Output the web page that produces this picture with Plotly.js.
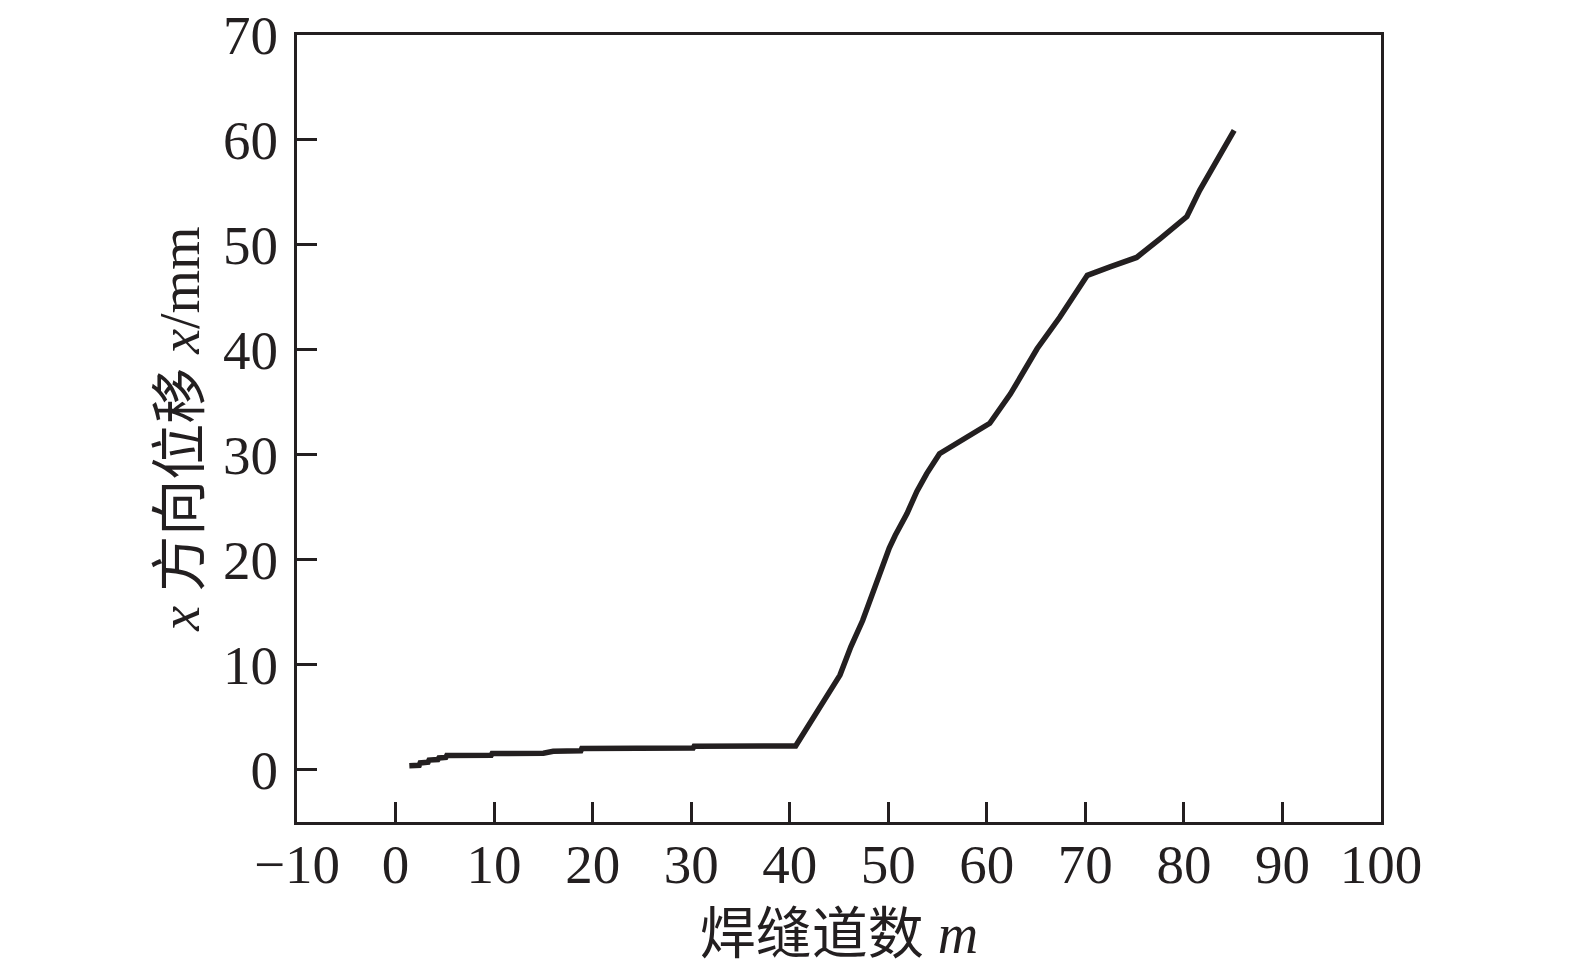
<!DOCTYPE html>
<html>
<head>
<meta charset="utf-8">
<script src="https://cdn.plot.ly/plotly-3.0.1.min.js"></script>
<style>html,body{margin:0;padding:0;background:#fff;}#chart{width:1575px;height:976px;}</style>
</head>
<body>
<div id="chart"></div>
<script>
// Weld pass number m
const passM = [1.4, 2.4, 2.5, 3.3, 3.4, 4.3, 4.4, 5.1, 5.2, 9.7, 9.8, 15.0, 16.0, 18.8, 18.9, 25.0, 30.2, 30.3, 40.6,
  45.1, 46.2, 47.4, 48.5, 49.2, 50.1, 50.7, 51.9, 52.9, 53.9, 55.2, 56.6, 58.7, 60.3,
  62.4, 65.1, 67.4, 70.2, 72.5, 75.2, 77.6, 80.3, 81.6, 83.3, 85.1];
// x-direction displacement (mm)
const dispX = [0.35, 0.4, 0.63, 0.7, 0.9, 0.95, 1.1, 1.15, 1.33, 1.35, 1.52, 1.55, 1.74, 1.78, 2.0, 2.02, 2.05, 2.22, 2.25,
  9.0, 11.7, 14.2, 17.1, 19.0, 21.1, 22.3, 24.4, 26.5, 28.2, 30.1, 30.9, 32.0, 33.0,
  35.8, 40.1, 43.1, 47.1, 47.9, 48.8, 50.6, 52.7, 55.2, 58.1, 60.9];

const xTickVals = [-10, 0, 10, 20, 30, 40, 50, 60, 70, 80, 90, 100];
const yTickVals = [0, 10, 20, 30, 40, 50, 60, 70];

const ink = '#231f20';
const serif = '"Liberation Serif", "Times New Roman", "Noto Sans CJK SC", serif';

const data = [{
  x: passM, y: dispX, type: 'scatter', mode: 'lines',
  line: {color: ink, width: 5.5},
  hoverinfo: 'skip'
}];

const layout = {
  width: 1575, height: 976,
  margin: {l: 297, r: 194, t: 35, b: 154},
  paper_bgcolor: '#fff', plot_bgcolor: '#fff',
  showlegend: false,
  font: {family: serif, color: ink, size: 55},
  xaxis: {
    range: [-10, 100], tickvals: xTickVals,
    ticks: 'inside', ticklen: 20, tickwidth: 3, tickcolor: ink,
    showline: true, linewidth: 3, linecolor: ink, mirror: true,
    showgrid: false, zeroline: false,
    tickfont: {family: serif, size: 55, color: ink},
    ticklabelstandoff: -8,
    title: {text: '焊缝道数 <i>m</i>', font: {family: serif, size: 56, color: ink}, standoff: 20}
  },
  yaxis: {
    range: [-5, 70], tickvals: yTickVals,
    ticks: 'inside', ticklen: 20, tickwidth: 3, tickcolor: ink,
    showline: true, linewidth: 3, linecolor: ink, mirror: true,
    showgrid: false, zeroline: false,
    tickfont: {family: serif, size: 55, color: ink},
    ticklabelstandoff: 5,
    title: {text: '<i>x</i> 方向位移 <i>x</i>/mm', font: {family: serif, size: 56, color: ink}, standoff: 6}
  }
};

Plotly.newPlot('chart', data, layout, {staticPlot: true, displayModeBar: false});
</script>
</body>
</html>
